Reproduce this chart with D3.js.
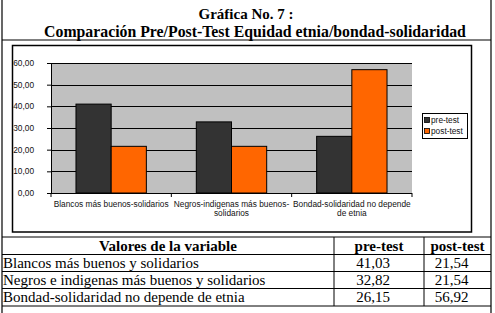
<!DOCTYPE html>
<html>
<head>
<meta charset="utf-8">
<script src="https://cdn.jsdelivr.net/npm/d3@7"></script>
<style>
  body { margin: 0; background: #fff; }
  svg { display: block; }
</style>
</head>
<body>
<svg id="chart" width="495" height="313"></svg>
<script>
// data
const categories = ['Blancos más buenos-solidarios', 'Negros-indigenas más buenos-solidarios', 'Bondad-solidaridad no depende de etnia'];
const categoryLines = [['Blancos más buenos-solidarios'], ['Negros-indigenas más buenos-', 'solidarios'], ['Bondad-solidaridad no depende', 'de etnia']];
const series = ['pre-test', 'post-test'];
const preTest = [41.03, 32.82, 26.15];
const postTest = [21.54, 21.54, 56.92];
const yTicks = [0, 10, 20, 30, 40, 50, 60];
const tableRows = ['Blancos más buenos y solidarios', 'Negros e indigenas más buenos y solidarios', 'Bondad-solidaridad no depende de etnia'];
const colors = { 'pre-test': '#333333', 'post-test': '#ff6600' };

const svg = d3.select('#chart');
const serif = '"Liberation Serif", "Times New Roman", serif';
const sans = '"Liberation Sans", Arial, sans-serif';

// outer frame
const frame = svg.append('g').attr('stroke', '#000').attr('stroke-width', 1.2);
frame.append('line').attr('x1', 2).attr('x2', 2).attr('y1', 0).attr('y2', 313);
frame.append('line').attr('x1', 491).attr('x2', 491).attr('y1', 0).attr('y2', 313);
frame.append('line').attr('x1', 2).attr('x2', 491).attr('y1', 40).attr('y2', 40);

// title
svg.append('text').attr('x', 246).attr('y', 19).attr('text-anchor', 'middle')
  .style('font', `bold 15px ${serif}`).text('Gráfica No. 7 :');
svg.append('text').attr('x', 255).attr('y', 36.5).attr('text-anchor', 'middle')
  .style('font', `bold 15.8px ${serif}`).text('Comparación Pre/Post-Test Equidad etnia/bondad-solidaridad');

// chart box
svg.append('rect').attr('x', 12.5).attr('y', 45.5).attr('width', 459).attr('height', 186.5)
  .attr('fill', '#fff').attr('stroke', '#000').attr('stroke-width', 1.5);

const plot = { left: 51, right: 412, top: 63, bottom: 193 };
const x = d3.scaleBand().domain(categories).range([plot.left, plot.right]);
const xSub = d3.scaleBand().domain(series).range([0, x.bandwidth()]).paddingOuter(0.71);
const y = d3.scaleLinear().domain([0, 60]).range([plot.bottom, plot.top]);

svg.append('rect').attr('x', plot.left).attr('y', plot.top)
  .attr('width', plot.right - plot.left).attr('height', plot.bottom - plot.top)
  .attr('fill', '#c0c0c0');

// gridlines
svg.append('g').selectAll('line').data(yTicks.slice(1)).join('line')
  .attr('x1', plot.left).attr('x2', plot.right)
  .attr('y1', d => Math.round(y(d)) + 0.5).attr('y2', d => Math.round(y(d)) + 0.5)
  .attr('stroke', '#000').attr('stroke-width', 1);

// bars
const bars = categories.map((c, i) => [
  { cat: c, key: 'pre-test', value: preTest[i] },
  { cat: c, key: 'post-test', value: postTest[i] }
]).flat();

svg.append('g').selectAll('rect').data(bars).join('rect')
  .attr('x', d => x(d.cat) + xSub(d.key))
  .attr('y', d => y(d.value))
  .attr('width', xSub.bandwidth())
  .attr('height', d => y(0) - y(d.value))
  .attr('fill', d => colors[d.key])
  .attr('stroke', '#000').attr('stroke-width', 1);

// y axis
const yAxis = svg.append('g').attr('transform', `translate(${plot.left},0)`)
  .call(d3.axisLeft(y).tickValues(yTicks).tickSize(4).tickPadding(12)
    .tickFormat(d => d3.format('.2f')(d).replace('.', ',')));
yAxis.select('.domain').attr('stroke', '#000');
yAxis.selectAll('.tick line').attr('stroke', '#000');
yAxis.selectAll('.tick text').style('font', `8.3px ${sans}`).attr('fill', '#111');
yAxis.selectAll('.tick text').attr('x', -17);

// x axis
const xAxisG = svg.append('g');
xAxisG.append('line').attr('x1', plot.left).attr('x2', plot.right)
  .attr('y1', plot.bottom + 0.5).attr('y2', plot.bottom + 0.5).attr('stroke', '#000');
const boundaries = categories.map(c => x(c)).concat([x(categories[categories.length - 1]) + x.bandwidth()]);
xAxisG.selectAll('line.tk').data(boundaries).join('line').attr('class', 'tk')
  .attr('x1', d => d).attr('x2', d => d)
  .attr('y1', plot.bottom).attr('y2', plot.bottom + 4).attr('stroke', '#000');

const labels = xAxisG.selectAll('text.cat').data(categories).join('text').attr('class', 'cat')
  .attr('x', d => x(d) + x.bandwidth() / 2)
  .attr('y', 207)
  .attr('text-anchor', 'middle')
  .style('font', `8.3px ${sans}`).attr('fill', '#111');
labels.each(function (d, i) {
  d3.select(this).selectAll('tspan').data(categoryLines[i]).join('tspan')
    .attr('x', x(d) + x.bandwidth() / 2)
    .attr('dy', (t, j) => j === 0 ? 0 : 9)
    .text(t => t);
});

// legend
const legend = svg.append('g');
legend.append('rect').attr('x', 422.5).attr('y', 113.5).attr('width', 45).attr('height', 25)
  .attr('fill', '#fff').attr('stroke', '#000').attr('stroke-width', 1);
series.forEach((s, i) => {
  legend.append('rect').attr('x', 424.5).attr('y', 117.5 + i * 11).attr('width', 5).attr('height', 5)
    .attr('fill', colors[s]).attr('stroke', '#000').attr('stroke-width', 0.8);
  legend.append('text').attr('x', 431).attr('y', 123 + i * 11)
    .style('font', `8.3px ${sans}`).attr('fill', '#111').text(s);
});

// table
const cols = [2, 334, 424, 491];
const rowY = [237, 254.5, 271.5, 288.5, 306];
const tbl = svg.append('g').attr('stroke', '#000').attr('stroke-width', 1);
rowY.forEach(yy => tbl.append('line').attr('x1', 2).attr('x2', 491).attr('y1', yy).attr('y2', yy));
cols.slice(1, 3).forEach(xx => tbl.append('line').attr('x1', xx).attr('x2', xx).attr('y1', 237).attr('y2', 306));

const header = ['Valores de la variable', 'pre-test', 'post-test'];
header.forEach((h, i) => {
  svg.append('text').attr('x', (cols[i] + cols[i + 1]) / 2).attr('y', 251)
    .attr('text-anchor', 'middle').style('font', `bold 15px ${serif}`).text(h);
});
tableRows.forEach((r, i) => {
  const yy = rowY[i + 1] + 13;
  svg.append('text').attr('x', 3).attr('y', yy).style('font', `15px ${serif}`).text(r);
  svg.append('text').attr('x', (cols[1] + cols[2]) / 2 - 6).attr('y', yy).attr('text-anchor', 'middle')
    .style('font', `15px ${serif}`).text(d3.format('.2f')(preTest[i]).replace('.', ','));
  svg.append('text').attr('x', (cols[2] + cols[3]) / 2 - 6).attr('y', yy).attr('text-anchor', 'middle')
    .style('font', `15px ${serif}`).text(d3.format('.2f')(postTest[i]).replace('.', ','));
});
</script>
</body>
</html>
